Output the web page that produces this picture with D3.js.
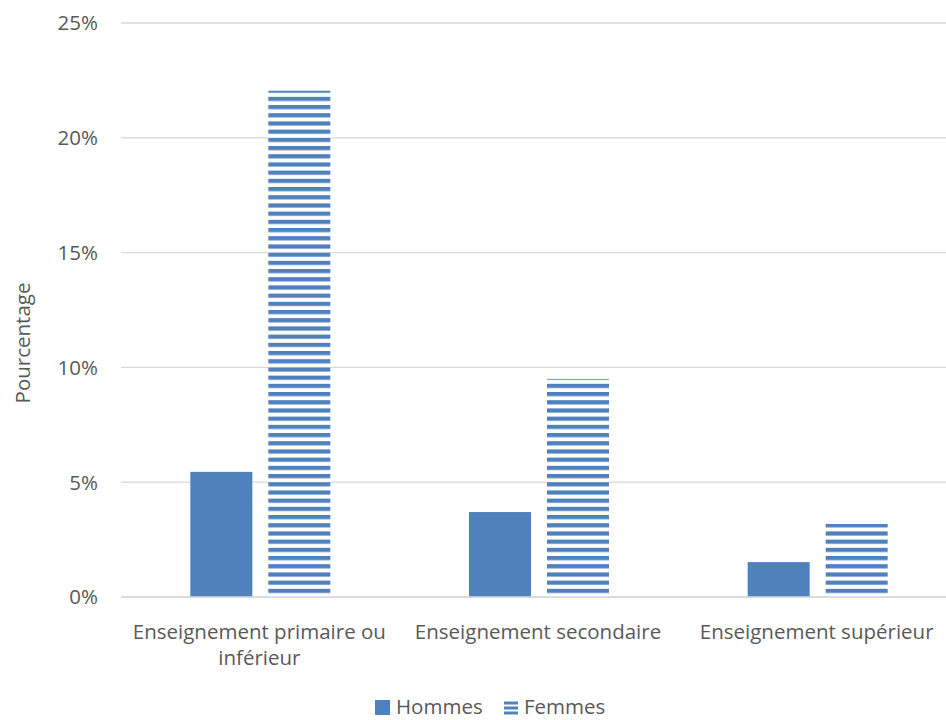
<!DOCTYPE html>
<html>
<head>
<meta charset="utf-8">
<script src="https://cdn.jsdelivr.net/npm/d3@7"></script>
<style>
  body { margin: 0; background: #fff; }
  text { font-family: "Open Sans", "Liberation Sans", sans-serif; fill: #595959; }
</style>
</head>
<body>
<div id="chart"></div>
<script>
// Data
const categories = ["Enseignement primaire ou inférieur", "Enseignement secondaire", "Enseignement supérieur"];
const categoryLines = [["Enseignement primaire ou", "inférieur"], ["Enseignement secondaire"], ["Enseignement supérieur"]];
const hommes = [5.45, 3.7, 1.52];
const femmes = [22.05, 9.5, 3.18];
const seriesNames = ["Hommes", "Femmes"];
const yTicks = [0, 5, 10, 15, 20, 25];

const W = 946, H = 720;
const margin = { top: 23, right: -11, bottom: 123, left: 121 };
const width = W - margin.left - margin.right;
const height = H - margin.top - margin.bottom;
const blue = "#4f81bd";
const fs = "20.5px";

const svg = d3.select("#chart").append("svg")
  .attr("width", W).attr("height", H);

// stripe pattern for Femmes
const defs = svg.append("defs");
const pat = defs.append("pattern")
  .attr("id", "stripes")
  .attr("patternUnits", "userSpaceOnUse")
  .attr("width", 8).attr("height", 8.2);
pat.append("rect").attr("width", 8).attr("height", 8.2).attr("fill", "#fff");
pat.append("rect").attr("y", 0).attr("width", 8).attr("height", 4.2).attr("fill", blue);

const g = svg.append("g")
  .attr("transform", "translate(" + margin.left + "," + margin.top + ")");

const x = d3.scaleBand().domain(categories).range([0, width]).paddingInner(0).paddingOuter(0);
const y = d3.scaleLinear().domain([0, 25]).range([height, 0]);

// gridlines
g.selectAll(".grid").data(yTicks).enter().append("line")
  .attr("x1", 0).attr("x2", width)
  .attr("y1", d => y(d)).attr("y2", d => y(d))
  .attr("stroke", "#d9d9d9").attr("stroke-width", 1.3);

// y tick labels
g.selectAll(".ytick").data(yTicks).enter().append("text")
  .attr("x", -23).attr("y", d => y(d))
  .attr("dy", "0.36em")
  .attr("text-anchor", "end")
  .style("font-size", fs)
  .text(d => d + "%");

// bars
const barW = 62, gap = 16;
const data = categories.map((c, i) => ({ c, h: hommes[i], f: femmes[i] }));

g.selectAll(".barH").data(data).enter().append("rect")
  .attr("x", d => x(d.c) + x.bandwidth() / 2 - gap / 2 - barW)
  .attr("y", d => y(d.h))
  .attr("width", barW)
  .attr("height", d => y(0) - y(d.h))
  .attr("fill", blue);

g.selectAll(".barF").data(data).enter().append("rect")
  .attr("x", d => x(d.c) + x.bandwidth() / 2 + gap / 2)
  .attr("y", d => y(d.f))
  .attr("width", barW)
  .attr("height", d => y(0) - y(d.f))
  .attr("fill", "url(#stripes)");

// baseline
g.append("line")
  .attr("x1", 0).attr("x2", width)
  .attr("y1", y(0)).attr("y2", y(0))
  .attr("stroke", "#d9d9d9").attr("stroke-width", 1.3);

// category labels
categories.forEach((c, i) => {
  const t = g.append("text")
    .attr("text-anchor", "middle")
    .style("font-size", fs)
    .attr("transform", "translate(" + (x(c) + x.bandwidth() / 2 - 1) + "," + (height + 42) + ")");
  categoryLines[i].forEach((line, j) => {
    t.append("tspan").attr("x", 0).attr("dy", j === 0 ? 0 : 26).text(line);
  });
});

// y axis title
svg.append("text")
  .attr("transform", "translate(30,343) rotate(-90)")
  .attr("text-anchor", "middle")
  .style("font-size", fs)
  .text("Pourcentage");

// legend
const leg = svg.append("g").attr("transform", "translate(375,700)");
leg.append("rect").attr("width", 15).attr("height", 15).attr("fill", blue);
leg.append("text").attr("x", 21).attr("y", 14)
  .style("font-size", fs).text(seriesNames[0]);
const leg2 = leg.append("g").attr("transform", "translate(129,0)");
[1.5, 6.5, 11.5].forEach(yy => {
  leg2.append("rect").attr("y", yy).attr("width", 14).attr("height", 3).attr("fill", blue);
});
leg2.append("text").attr("x", 20).attr("y", 14)
  .style("font-size", fs).text(seriesNames[1]);
</script>
</body>
</html>
